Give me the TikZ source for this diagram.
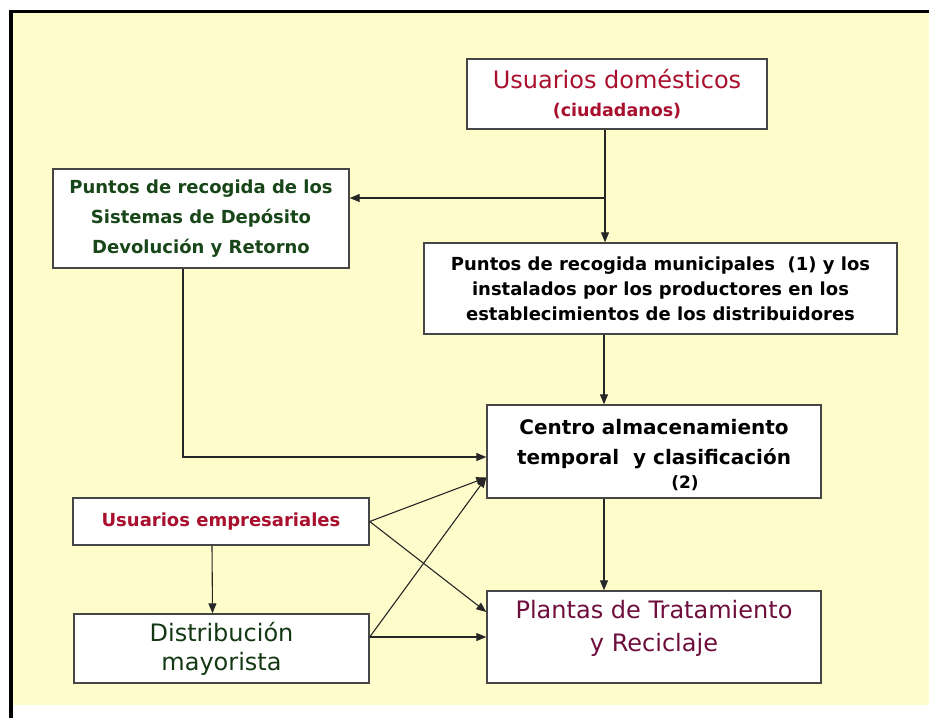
\documentclass[tikz,border=0pt]{standalone}
\usepackage{fontspec}
\setmainfont{DejaVu Sans}
\usetikzlibrary{arrows.meta}
\definecolor{bg}{RGB}{255,252,204}
\definecolor{rojo}{RGB}{168,16,46}
\definecolor{verde}{RGB}{24,70,24}
\definecolor{granate}{RGB}{110,14,60}
\definecolor{borde}{RGB}{70,70,70}
\begin{document}
\begin{tikzpicture}[x=1pt,y=-1pt,
  box/.style={draw=borde, line width=1.4pt, fill=white, inner sep=0pt, align=center},
  arr/.style={-{Triangle[length=10pt,width=8pt]}, line width=1.1pt, draw=black!85},
  ln/.style={line width=1.1pt, draw=black!85}]
\useasboundingbox (0,0) rectangle (929,718);
\fill[black] (9,10) rectangle (13,718);
\fill[black] (9,10) rectangle (929,13);
\fill[bg] (13,13) rectangle (929,705);

\node[box, minimum width=300pt, minimum height=70pt, text=rojo,
  font=\fontsize{24}{28}\selectfont] (ud) at (617,94)
  {Usuarios domésticos\\{\fontsize{17.5}{20}\selectfont\bfseries (ciudadanos)}};

\node[box, minimum width=296pt, minimum height=99pt, text=verde,
  font=\fontsize{18}{30}\selectfont\bfseries] (sddr) at (201,218.5)
  {Puntos de recogida de los\\Sistemas de Depósito\\Devolución y Retorno};

\node[box, minimum width=473pt, minimum height=91pt,
  font=\fontsize{18}{25}\selectfont\bfseries] (mun) at (660.5,288.5)
  {Puntos de recogida municipales\ \ (1) y los\\instalados por los productores en los\\establecimientos de los distribuidores};

\node[box, minimum width=334pt, minimum height=93pt,
  font=\fontsize{20}{30}\selectfont\bfseries] (centro) at (654,451.5)
  {\mbox{}\\[-8pt]Centro almacenamiento\\temporal\ \ y clasificación\\[-6pt]\hspace*{62pt}{\fontsize{17}{20}\selectfont (2)}};

\node[box, minimum width=334pt, minimum height=92pt, text=granate,
  font=\fontsize{24}{33}\selectfont] (plantas) at (654,637)
  {Plantas de Tratamiento\\y Reciclaje\\[-11pt]\mbox{}};

\node[box, minimum width=296pt, minimum height=47pt, text=rojo,
  font=\fontsize{18}{22}\selectfont\bfseries] (ue) at (221,521.5)
  {Usuarios empresariales};

\node[box, minimum width=295pt, minimum height=69pt, text=verde!80!black,
  font=\fontsize{24}{29}\selectfont] (dm) at (221.5,648.5)
  {Distribución\\mayorista};

\coordinate (j) at (605,198);
\draw[ln] (ud.south -| j) -- (j);
\draw[arr] (j) -- (sddr.east |- j);
\draw[arr] (j) -- (mun.north -| j);

\coordinate (c1) at (604,0);
\draw[arr] (mun.south -| c1) -- (centro.north -| c1);
\draw[arr] (centro.south -| c1) -- (plantas.north -| c1);

\coordinate (k) at (183,457);
\draw[arr] (sddr.south -| k) -- (k) -- (centro.west |- k);

\draw[arr] (ue.east) -- ([yshift=-26pt]centro.west);
\draw[arr] (ue.east) -- ([yshift=25pt]plantas.west);
\draw[arr] (dm.east |- plantas.west) -- (plantas.west);
\draw[arr] (dm.east |- plantas.west) -- ([yshift=-26pt]centro.west);

\draw[arr] ([xshift=-9pt]ue.south) -- ([xshift=-9pt]dm.north);
\end{tikzpicture}
\end{document}
